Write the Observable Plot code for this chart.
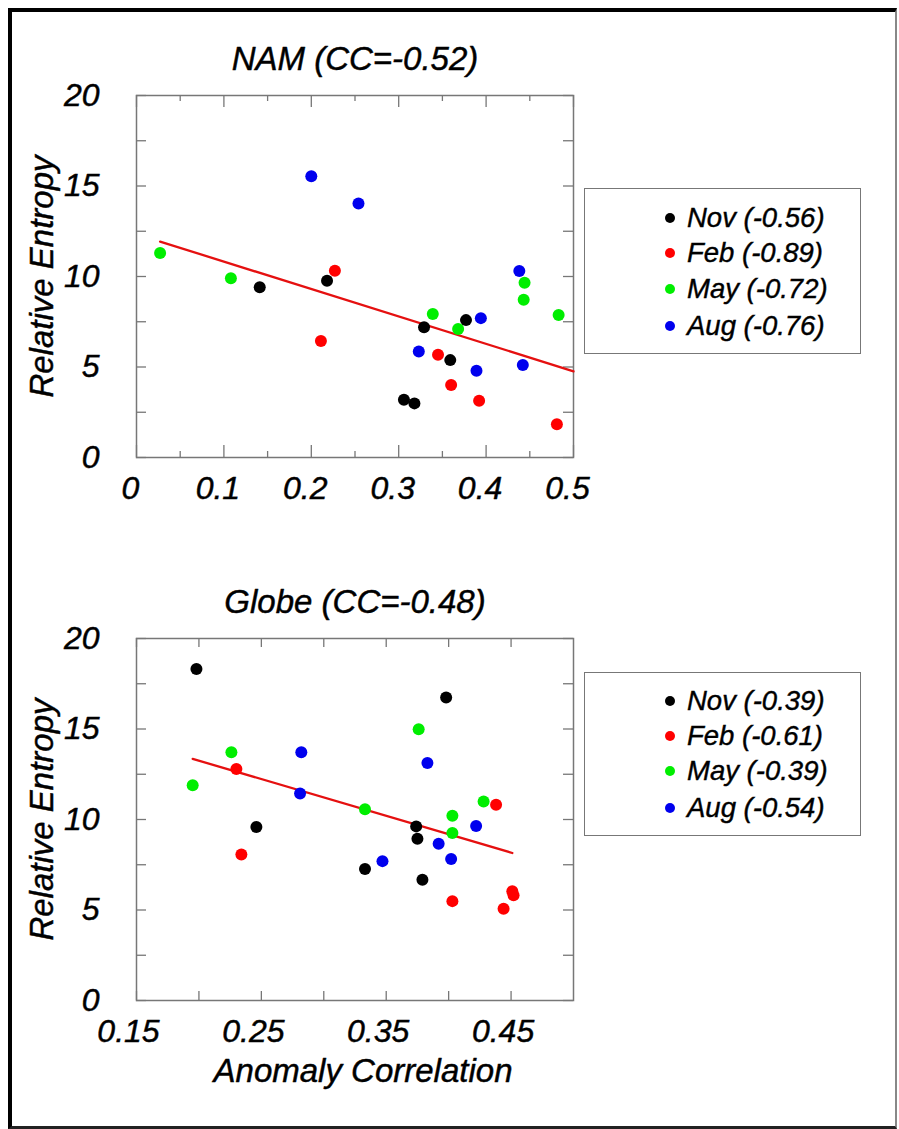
<!DOCTYPE html>
<html>
<head>
<meta charset="utf-8">
<script src="https://cdn.jsdelivr.net/npm/d3@7"></script>
<script src="https://cdn.jsdelivr.net/npm/@observablehq/plot@0.6"></script>
<style>
  html, body { margin: 0; padding: 0; background: #fff; }
  #page { position: relative; width: 899px; height: 1129px; background: #fff; overflow: hidden;
          font-family: "Liberation Sans", Arial, sans-serif; }
  #border { position: absolute; left: 8px; top: 8px; width: 883px; height: 1114px;
            border-left: 4px solid #000; border-top: 4px solid #000;
            border-right: 2px solid #888; border-bottom: 3px solid #222; }
  .panel { position: absolute; left: 0; }
  .legend { position: absolute; left: 584px; width: 275px; border: 1.5px solid #777; background: #fff; }
  .legend .row { position: absolute; left: 0; height: 30px; }
  .legend .dot { position: absolute; width: 10px; height: 10px; border-radius: 50%; left: 80px; }
  .legend .lab { position: absolute; left: 102px; font-style: italic; font-size: 27.5px; white-space: nowrap;
                 line-height: 30px; color: #000; -webkit-text-stroke: 0.4px #000; }
</style>
</head>
<body>
<div id="page">
  <div id="border"></div>
  <div id="p1" class="panel" style="top:0px"></div>
  <div id="p2" class="panel" style="top:540px"></div>
  <div id="leg1" class="legend" style="top:188px;height:164px"></div>
  <div id="leg2" class="legend" style="top:672px;height:162px"></div>
</div>
<script>
// ---------- data ----------
const months = ["Nov", "Feb", "May", "Aug"];
const monthColors = ["#000000", "#ff0000", "#00ee00", "#0000ee"];

// NAM panel: anomaly correlation (x) and relative entropy (y)
const namNovAC = [0.141, 0.218, 0.329, 0.377, 0.359, 0.306, 0.318];
const namNovRE = [9.40, 9.77, 7.19, 7.59, 5.38, 3.19, 2.99];
const namFebAC = [0.227, 0.211, 0.345, 0.360, 0.392, 0.481];
const namFebRE = [10.32, 6.43, 5.68, 4.00, 3.13, 1.84];
const namMayAC = [0.027, 0.108, 0.339, 0.368, 0.444, 0.443, 0.483];
const namMayRE = [11.30, 9.90, 7.93, 7.10, 9.66, 8.72, 7.87];
const namAugAC = [0.200, 0.254, 0.394, 0.323, 0.389, 0.438, 0.442];
const namAugRE = [15.54, 14.03, 7.70, 5.86, 4.79, 10.30, 5.11];
const namFitAC = [0.027, 0.5];
const namFitRE = [11.93, 4.76];
const namLegend = ["Nov (-0.56)", "Feb (-0.89)", "May (-0.72)", "Aug (-0.76)"];

// Globe panel
const glbNovAC = [0.198, 0.398, 0.246, 0.374, 0.375, 0.333, 0.379];
const glbNovRE = [18.32, 16.74, 9.59, 9.62, 8.94, 7.26, 6.67];
const glbFebAC = [0.230, 0.438, 0.234, 0.451, 0.452, 0.403, 0.444];
const glbFebRE = [12.79, 10.82, 8.07, 6.03, 5.81, 5.49, 5.07];
const glbMayAC = [0.376, 0.226, 0.195, 0.333, 0.428, 0.403, 0.403];
const glbMayRE = [14.99, 13.71, 11.89, 10.56, 10.99, 10.21, 9.25];
const glbAugAC = [0.282, 0.383, 0.281, 0.422, 0.392, 0.402, 0.347];
const glbAugRE = [13.71, 13.12, 11.43, 9.64, 8.66, 7.82, 7.70];
const glbFitAC = [0.195, 0.451];
const glbFitRE = [13.35, 8.15];
const glbLegend = ["Nov (-0.39)", "Feb (-0.61)", "May (-0.39)", "Aug (-0.54)"];

// ticks
const namXLabels = ["0", "0.1", "0.2", "0.3", "0.4", "0.5"];
const namXMajor = [0, 0.1, 0.2, 0.3, 0.4, 0.5];
const namXMinor = [0.05, 0.15, 0.25, 0.35, 0.45];
const glbXLabels = ["0.15", "0.25", "0.35", "0.45"];
const glbXMajor = [0.15, 0.25, 0.35, 0.45];
const glbXMinor = [0.2, 0.3, 0.4];
const yLabels = ["0", "5", "10", "15", "20"];
const yMajor = [0, 5, 10, 15, 20];
const yMinor = [2.5, 7.5, 12.5, 17.5];

// ---------- helpers ----------
const FONT = "Liberation Sans, Arial, sans-serif";
function rows(ac, re, month) { return ac.map((x, i) => ({x, y: re[i], month})); }
function fitRows(ac, re) { return ac.map((x, i) => ({x, y: re[i]})); }

const W = 600, mL = 136, mR = 27, frameH = 362;
const txt = {fontStyle: "italic", fill: "#000", stroke: "#000", strokeWidth: 0.45};

function panel({title, xDomain, xMajor, xLabels, xMinor, pts, fit, xLabel, height, mTop, mBottom, majLen, minLen, labelDx}) {
  const frameW = W - mL - mR;
  const tickStyle = {stroke: "#777", strokeWidth: 1.3};
  const marks = [
    Plot.tickX(xMajor, {x: d => d, insetTop: frameH - majLen, ...tickStyle}),
    Plot.tickX(xMinor, {x: d => d, insetTop: frameH - minLen, ...tickStyle}),
    Plot.tickX(xMajor, {x: d => d, insetBottom: frameH - majLen, ...tickStyle}),
    Plot.tickX(xMinor, {x: d => d, insetBottom: frameH - minLen, ...tickStyle}),
    Plot.tickY(yMajor.concat(yMinor), {y: d => d, insetRight: frameW - 10, ...tickStyle}),
    Plot.tickY(yMajor.concat(yMinor), {y: d => d, insetLeft: frameW - 10, ...tickStyle}),
    Plot.frame({stroke: "#777", strokeWidth: 1.5}),
    Plot.line(fit, {x: "x", y: "y", stroke: "#e51010", strokeWidth: 2.3}),
    Plot.dot(pts, {x: "x", y: "y", fill: "month", r: 6}),
    Plot.text(xLabels, {x: (d, i) => xMajor[i], text: d => d, frameAnchor: "bottom", dy: 31, dx: labelDx,
      fontSize: 32, lineAnchor: "middle", textAnchor: "middle", ...txt}),
    Plot.text(yLabels, {y: (d, i) => yMajor[i], text: d => d, frameAnchor: "left", dx: -37,
      textAnchor: "end", lineAnchor: "middle", fontSize: 32, ...txt}),
    Plot.text(["Relative Entropy"], {frameAnchor: "left", dx: -94, rotate: -90,
      textAnchor: "middle", lineAnchor: "middle", fontSize: 33, ...txt}),
    Plot.text([title], {frameAnchor: "top", dy: -26, lineAnchor: "bottom", textAnchor: "middle",
      fontSize: 33, ...txt})
  ];
  if (xLabel) marks.push(Plot.text([xLabel], {frameAnchor: "bottom", dy: 71, dx: 8,
      textAnchor: "middle", lineAnchor: "middle", fontSize: 33, ...txt}));
  return Plot.plot({
    width: W, height,
    marginLeft: mL, marginRight: mR, marginTop: mTop, marginBottom: mBottom,
    style: {fontFamily: FONT, background: "transparent", overflow: "visible"},
    x: {domain: xDomain, axis: null},
    y: {domain: [0, 20], axis: null},
    color: {domain: months, range: monthColors},
    marks
  });
}

const namPts = [].concat(
  rows(namNovAC, namNovRE, "Nov"), rows(namFebAC, namFebRE, "Feb"),
  rows(namMayAC, namMayRE, "May"), rows(namAugAC, namAugRE, "Aug"));
const glbPts = [].concat(
  rows(glbNovAC, glbNovRE, "Nov"), rows(glbFebAC, glbFebRE, "Feb"),
  rows(glbMayAC, glbMayRE, "May"), rows(glbAugAC, glbAugRE, "Aug"));

document.getElementById("p1").append(panel({
  title: "NAM (CC=-0.52)", xDomain: [0, 0.5], xMajor: namXMajor, xLabels: namXLabels, xMinor: namXMinor,
  pts: namPts, fit: fitRows(namFitAC, namFitRE), height: 520, mTop: 95, mBottom: 63, majLen: 12, minLen: 6, labelDx: -6
}));
document.getElementById("p2").append(panel({
  title: "Globe (CC=-0.48)", xDomain: [0.15, 0.5], xMajor: glbXMajor, xLabels: glbXLabels, xMinor: glbXMinor,
  pts: glbPts, fit: fitRows(glbFitAC, glbFitRE), xLabel: "Anomaly Correlation",
  height: 589, mTop: 98, mBottom: 129, majLen: 9, minLen: 9, labelDx: -8
}));

// legends
function legend(el, labels, rowTops) {
  const color = d3.scaleOrdinal(months, monthColors);
  labels.forEach((lab, i) => {
    const row = document.createElement("div");
    row.className = "row";
    row.style.top = rowTops[i] + "px";
    row.innerHTML = `<span class="dot" style="background:${color(months[i])};top:10px"></span><span class="lab">${lab}</span>`;
    el.append(row);
  });
}
legend(document.getElementById("leg1"), namLegend, [14, 49, 85, 122]);
legend(document.getElementById("leg2"), glbLegend, [13, 48, 83, 120]);
</script>
</body>
</html>
